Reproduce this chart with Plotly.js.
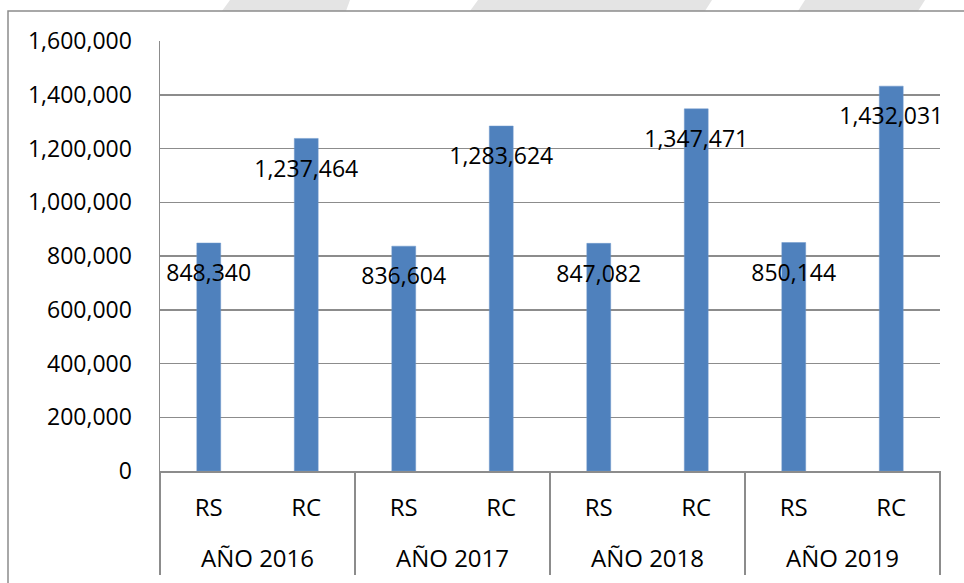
<!DOCTYPE html>
<html>
<head>
<meta charset="utf-8">
<script src="https://cdn.plot.ly/plotly-3.0.1.min.js"></script>
<style>html,body{margin:0;padding:0;background:#fff;}#chart{width:964px;height:583px;}</style>
</head>
<body>
<div id="chart"></div>
<script>
var years = ["AÑO 2016", "AÑO 2016", "AÑO 2017", "AÑO 2017", "AÑO 2018", "AÑO 2018", "AÑO 2019", "AÑO 2019"];
var cats = ["RS", "RC", "RS", "RC", "RS", "RC", "RS", "RC"];
var values = [848340, 1237464, 836604, 1283624, 847082, 1347471, 850144, 1432031];
var yTicks = [0, 200000, 400000, 600000, 800000, 1000000, 1200000, 1400000, 1600000];

var FONT = "Open Sans, Liberation Sans, sans-serif";
var W = 964, H = 583;
var L = 160, R = 940, T = 41, B = 471, DIV_BOTTOM = 575;

var keys = years.map(function(y, i){ return y + " | " + cats[i]; });
var yearGroups = years.filter(function(y, i){ return years.indexOf(y) === i; });
var groupCenters = yearGroups.map(function(y, i){ return i; });
var groupEdges = [-0.5].concat(yearGroups.map(function(y, i){ return i + 0.5; }));

function px(x){ return (x - L) / (R - L); }
function py(y){ return (DIV_BOTTOM - y) / (DIV_BOTTOM - T); }

var bars = {
  type: "bar",
  x: keys,
  y: values,
  marker: {color: "#4F81BD", line: {color: "#6f98cc", width: 0.5}},
  hoverinfo: "skip",
  showlegend: false
};
var labels = {
  type: "scatter",
  mode: "markers+text",
  x: keys,
  y: values,
  text: values.map(function(v){ return v.toLocaleString("en-US"); }),
  textposition: "bottom center",
  marker: {size: 32, opacity: 0},
  textfont: {family: FONT, size: 23, color: "#000"},
  hoverinfo: "skip",
  showlegend: false,
  cliponaxis: false
};
// carrier for the year-group axis (no visible marks)
var groupAxis = {
  type: "scatter",
  mode: "markers",
  x: groupCenters,
  y: groupCenters.map(function(){ return null; }),
  xaxis: "x2", yaxis: "y",
  marker: {opacity: 0},
  hoverinfo: "skip",
  showlegend: false
};

function stripe(xt0, xt1, xb0, xb1){
  return {type: "path", xref: "paper", yref: "paper", layer: "below",
    path: "M" + px(xt0) + "," + py(0) + " L" + px(xt1) + "," + py(0) + " L" + px(xb1) + "," + py(11) + " L" + px(xb0) + "," + py(11) + " Z",
    fillcolor: "#e4e4e4", line: {width: 0}};
}

var layout = {
  width: W, height: H,
  margin: {l: L, r: W - R, t: T, b: H - DIV_BOTTOM},
  paper_bgcolor: "#fff", plot_bgcolor: "#fff",
  bargap: 0.755,
  font: {family: FONT, size: 22, color: "#000"},
  xaxis: {
    type: "category",
    categoryarray: keys, categoryorder: "array",
    range: [-0.5, keys.length - 0.5],
    tickmode: "array", tickvals: keys, ticktext: cats,
    showline: true, linecolor: "#8c8c8c", linewidth: 1.5,
    showgrid: false, ticks: "",
    ticklabelstandoff: 15,
    tickfont: {family: FONT, size: 24, color: "#000"}
  },
  xaxis2: {
    type: "linear",
    overlaying: "x", anchor: "free", position: 0, side: "bottom",
    range: [-0.5, yearGroups.length - 0.5],
    tickmode: "array", tickvals: groupCenters, ticktext: yearGroups,
    ticklabelposition: "inside",
    ticklabelstandoff: 0,
    showline: false, showgrid: false, zeroline: false, ticks: "",
    tickfont: {family: FONT, size: 24, color: "#000"},
    minor: {tickmode: "array", tickvals: groupEdges, ticks: "inside", ticklen: DIV_BOTTOM - B,
            tickwidth: 1.5, tickcolor: "#8c8c8c", showgrid: false}
  },
  yaxis: {
    domain: [(DIV_BOTTOM - B) / (DIV_BOTTOM - T), 1],
    range: [0, 1600000],
    tickvals: yTicks,
    tickformat: ",d",
    showline: true, linecolor: "#8c8c8c", linewidth: 1.5,
    gridcolor: "#8c8c8c", gridwidth: 1.5,
    zeroline: false, ticks: "",
    ticklabelstandoff: 22,
    tickfont: {family: FONT, size: 23, color: "#000"}
  },
  shapes: [
    stripe(230, 350, 222, 346),
    stripe(478, 712, 470, 705),
    stripe(805, 925, 798, 918),
    {type: "rect", xref: "paper", yref: "paper",
     x0: px(8), x1: px(1000), y0: py(620), y1: py(11),
     line: {color: "#8c8c8c", width: 1.5}, fillcolor: "rgba(0,0,0,0)"}
  ]
};

Plotly.newPlot("chart", [bars, labels, groupAxis], layout, {staticPlot: true, displayModeBar: false});
</script>
</body>
</html>
